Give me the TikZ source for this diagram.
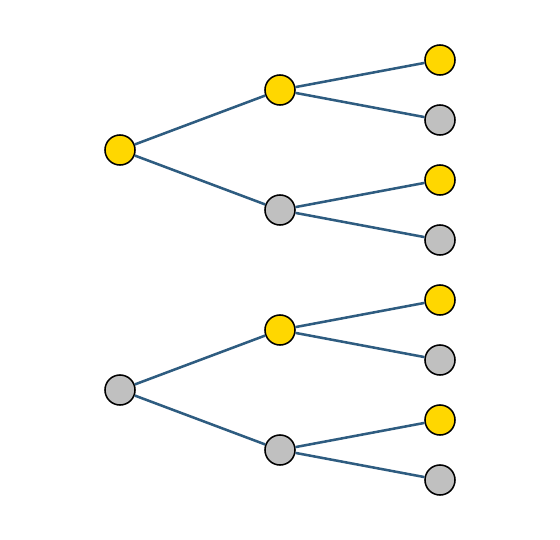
\documentclass[tikz,border=0pt]{standalone}
\usetikzlibrary{positioning}
\definecolor{edgeblue}{HTML}{2E5C80}
\definecolor{gold}{HTML}{FFD700}
\definecolor{silver}{HTML}{C0C0C0}

\begin{document}
\begin{tikzpicture}[x=0.025cm, y=-0.025cm,
    dot/.style={circle, draw=black, line width=1.1pt, minimum size=0.75cm, inner sep=0pt},
    yes/.style={dot, fill=gold},
    no/.style={dot, fill=silver},
    edge/.style={edgeblue, line width=1.8pt}]
    \useasboundingbox (0,0) rectangle (560,540);
    % upper tree
    \node[yes] (r1) at (120,150) {};
    \node[yes] (a1) at (280,90) {};
    \node[no]  (a2) at (280,210) {};
    % lower tree
    \node[no]  (r2) at (120,390) {};
    \node[yes] (b1) at (280,330) {};
    \node[no]  (b2) at (280,450) {};
    % leaves
    \foreach \i/\s in {1/yes,2/no,3/yes,4/no,5/yes,6/no,7/yes,8/no}
        \node[\s] (l\i) at (440,60*\i) {};
    \draw[edge] (r1) -- (a1) (r1) -- (a2) (r2) -- (b1) (r2) -- (b2);
    \draw[edge] (a1) -- (l1) (a1) -- (l2) (a2) -- (l3) (a2) -- (l4);
    \draw[edge] (b1) -- (l5) (b1) -- (l6) (b2) -- (l7) (b2) -- (l8);
\end{tikzpicture}
\end{document}
